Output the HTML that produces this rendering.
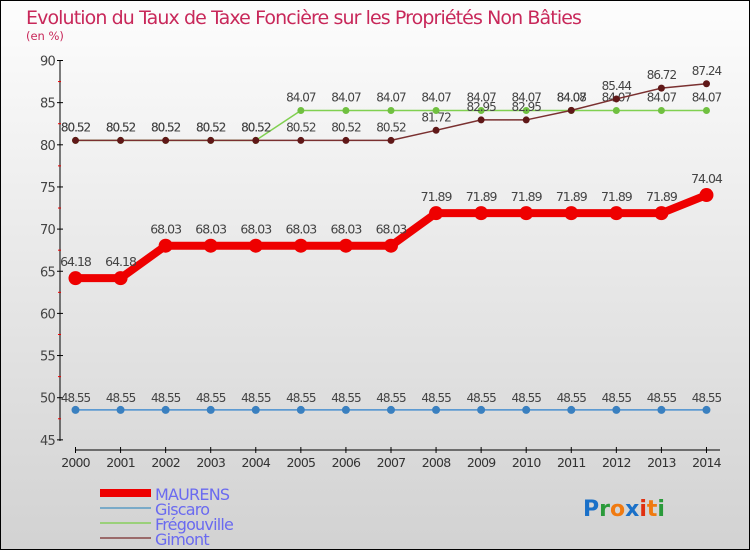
<!DOCTYPE html>
<html><head><meta charset="utf-8"><style>
body{margin:0;width:750px;height:550px;overflow:hidden}
svg{display:block;font-family:"DejaVu Sans","Liberation Sans",sans-serif}
</style></head><body>
<svg id="c" width="750" height="550" viewBox="0 0 750 550">
<defs><linearGradient id="bg" x1="0" y1="0" x2="0" y2="1"><stop offset="0" stop-color="#fdfdfd"/><stop offset="1" stop-color="#d2d2d2"/></linearGradient></defs>
<rect x="0.5" y="0.5" width="749" height="549" fill="url(#bg)" stroke="#000"/>
<text x="26" y="24" font-size="19" fill="#c8285a" letter-spacing="-0.9">Evolution du Taux de Taxe Foncière sur les Propriétés Non Bâties</text>
<text x="26" y="40" font-size="11.5" fill="#c8285a">(en %)</text>
<g id="axes"></g><g id="series"></g>
<g>
<rect x="100" y="489" width="51" height="8" fill="#e00"/>
<text x="155" y="500" font-size="16" fill="#6a6af0" letter-spacing="-0.8">MAURENS</text>
<rect x="100" y="507" width="51" height="2" fill="#7aaac8"/>
<text x="155" y="515" font-size="16" fill="#6a6af0" letter-spacing="-0.8">Giscaro</text>
<rect x="100" y="522" width="51" height="2" fill="#9ad07a"/>
<text x="155" y="530" font-size="16" fill="#6a6af0" letter-spacing="-0.8">Frégouville</text>
<rect x="100" y="537" width="51" height="2" fill="#9a6a6a"/>
<text x="155" y="545" font-size="16" fill="#6a6af0" letter-spacing="-0.8">Gimont</text>
</g>
<text x="583" y="516" font-size="22" font-weight="bold"><tspan fill="#1a70c8">P</tspan><tspan fill="#2a9a3a">r</tspan><tspan fill="#f07a10">o</tspan><tspan fill="#1a70c8">x</tspan><tspan fill="#e03010">i</tspan><tspan fill="#f07a10">t</tspan><tspan fill="#2a9a3a">i</tspan></text>
</svg>
<script>
const years=["2000","2001","2002","2003","2004","2005","2006","2007","2008","2009","2010","2011","2012","2013","2014"];
const yTicks=[45,50,55,60,65,70,75,80,85,90];
const maurens=[64.18,64.18,68.03,68.03,68.03,68.03,68.03,68.03,71.89,71.89,71.89,71.89,71.89,71.89,74.04];
const giscaro=[48.55,48.55,48.55,48.55,48.55,48.55,48.55,48.55,48.55,48.55,48.55,48.55,48.55,48.55,48.55];
const fregouville=[80.52,80.52,80.52,80.52,80.52,84.07,84.07,84.07,84.07,84.07,84.07,84.07,84.07,84.07,84.07];
const gimont=[80.52,80.52,80.52,80.52,80.52,80.52,80.52,80.52,81.72,82.95,82.95,84.08,85.44,86.72,87.24];
const NS="http://www.w3.org/2000/svg";
const X=i=>75.5+i*45.07, Y=v=>60.5+(90-v)*8.43;
function mk(t,a,p){const e=document.createElementNS(NS,t);for(const k in a)e.setAttribute(k,a[k]);p.appendChild(e);return e;}
const ax=document.getElementById('axes');
let l=mk('line',{x1:60,y1:60,x2:60,y2:441,stroke:'#000'},ax);


l=mk('line',{x1:75,y1:450,x2:720,y2:450,stroke:'#000'},ax);


yTicks.forEach(v=>{
 mk('line',{x1:57,x2:63,y1:Y(v),y2:Y(v),stroke:'#000'},ax);
 if(v<90)mk('line',{x1:58,x2:61,y1:Y(v+2.5),y2:Y(v+2.5),stroke:'#e00'},ax);
 const t=mk('text',{x:55,y:Y(v)+5,'text-anchor':'end','font-size':13,fill:'#444','letter-spacing':'-0.8'},ax);
 t.textContent=v;
 
 
});
years.forEach((y,i)=>{
 mk('line',{x1:X(i),x2:X(i),y1:447,y2:453,stroke:'#000'},ax);
 const t=mk('text',{x:X(i),y:467,'text-anchor':'middle','font-size':12.5,fill:'#333','letter-spacing':'-0.8'},ax);
 t.textContent=y;
 
 
});
const sg=document.getElementById('series');
function series(name,data,color,w,r,dot,fs,dy){
 const g=mk('g',{},sg);
 
 
 const p=mk('polyline',{points:data.map((v,i)=>X(i)+','+Y(v)).join(' '),fill:'none',stroke:color,'stroke-width':w},g);
 
 
 data.forEach((v,i)=>{
  const c=mk('circle',{cx:X(i),cy:Y(v),r:r,fill:dot},g);
  
  
  const t=mk('text',{x:X(i),y:Y(v)-dy,'text-anchor':'middle','font-size':fs,fill:'#444','letter-spacing':'-1'},g);
  t.textContent=v.toFixed(2);
  
  
 });
}
series('giscaro',giscaro,'#4a90d0',1.5,4,'#3a80c0',12,8);
series('fregouville',fregouville,'#80d050',1.5,3.5,'#70c040',12,9);
series('gimont',gimont,'#7a3030',1.5,3.5,'#601818',12,9);
series('maurens',maurens,'#ee0000',8,7,'#ee0000',12.5,12);
</script>
</body></html>
